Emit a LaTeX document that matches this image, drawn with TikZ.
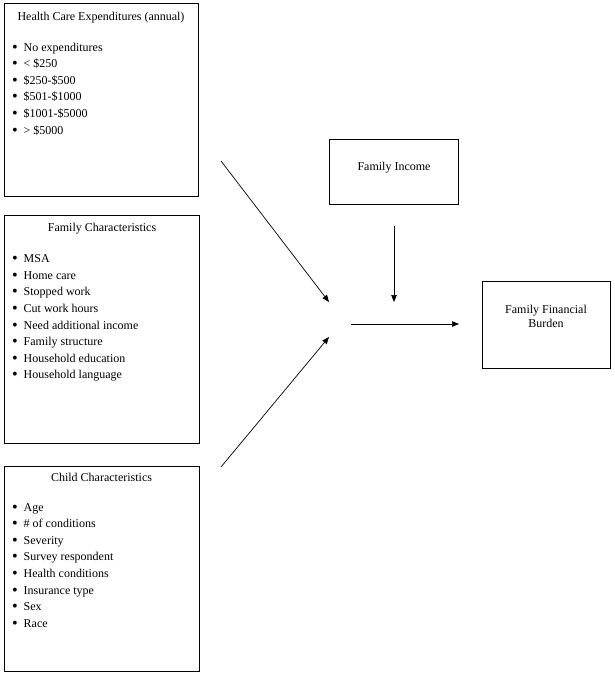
\documentclass[tikz,border=0pt]{standalone}
\usepackage{fontspec}
\setmainfont{Liberation Serif}
\usetikzlibrary{arrows.meta}
\newcommand{\itm}[1]{\makebox[11.5pt][l]{\raisebox{-1pt}{\scalebox{1.35}{\textbullet}}}#1}

\begin{document}
\begin{tikzpicture}[x=1pt, y=-1pt, font=\fontsize{12}{16.6}\selectfont,
    box/.style={draw, line width=0.9pt, inner sep=0pt},
    head/.style={anchor=north, inner sep=0pt},
    lst/.style={anchor=north west, align=left, inner sep=0pt},
    arr/.style={-{Triangle[length=7pt, width=5.5pt]}, line width=0.7pt}]
    \useasboundingbox (0,0) rectangle (614,676);

    % left boxes
    \node[box, minimum width=194pt, minimum height=193pt] (hce) at (101,99.5) {};
    \node[head] (hcet) at (101,12) {Health Care Expenditures (annual)};
    \node[lst] (hcel) at (12,42.5) {\itm{No expenditures}\\ \itm{< \$250}\\ \itm{\$250-\$500}\\
        \itm{\$501-\$1000}\\ \itm{\$1001-\$5000}\\ \itm{> \$5000}};

    \node[box, minimum width=195pt, minimum height=228pt] (fam) at (101.5,329) {};
    \node[head] (famt) at (102,223) {Family Characteristics};
    \node[lst] (faml) at (12,254.5) {\itm{MSA}\\ \itm{Home care}\\ \itm{Stopped work}\\
        \itm{Cut work hours}\\ \itm{Need additional income}\\ \itm{Family structure}\\
        \itm{Household education}\\ \itm{Household language}};

    \node[box, minimum width=195pt, minimum height=205pt] (chd) at (101.5,568.5) {};
    \node[head] (chdt) at (101.5,473) {Child Characteristics};
    \node[lst] (chdl) at (12,503) {\itm{Age}\\ \itm{\# of conditions}\\ \itm{Severity}\\
        \itm{Survey respondent}\\ \itm{Health conditions}\\ \itm{Insurance type}\\
        \itm{Sex}\\ \itm{Race}};

    % right boxes
    \node[box, minimum width=129pt, minimum height=65pt] (inc) at (393.5,171.5) {};
    \node (inct) at (394,168) {Family Income};
    \node[box, minimum width=128pt, minimum height=87pt] (bur) at (546,324.5) {};
    \node[align=center, font=\fontsize{12}{13.8}\selectfont] (burt) at (546,316) {Family Financial\\ Burden};

    % arrows
    \coordinate (a1) at (221,161);
    \coordinate (a2) at (329,302);
    \coordinate (b1) at (394,226);
    \coordinate (b2) at (394,302);
    \coordinate (c1) at (221,467);
    \coordinate (c2) at (329,337);
    \coordinate (d1) at (351,324);
    \coordinate (d2) at (459,324);
    \draw[arr] (a1) -- (a2);
    \draw[arr] (b1) -- (b2);
    \draw[arr] (c1) -- (c2);
    \draw[arr] (d1) -- (d2);
\end{tikzpicture}
\end{document}
